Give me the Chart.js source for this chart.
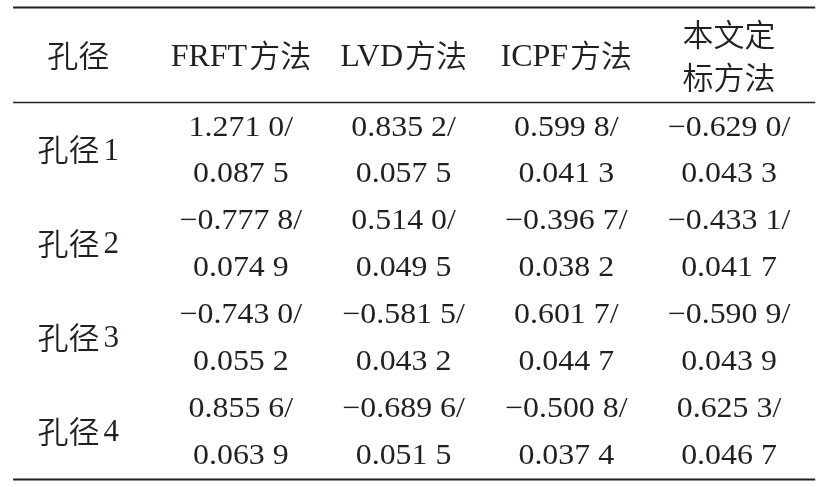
<!DOCTYPE html>
<html>
<head>
<meta charset="utf-8">
<script src="https://cdn.jsdelivr.net/npm/chart.js@4.4.1/dist/chart.umd.min.js"></script>
<style>
  html, body { margin: 0; padding: 0; background: #fff; }
  #wrap { width: 822px; height: 487px; }
</style>
</head>
<body>
<div id="wrap"><canvas id="tableChart"></canvas></div>
<script>
// column headers (last one wraps on two lines)
const columns = ['孔径', 'FRFT方法', 'LVD方法', 'ICPF方法', ['本文定', '标方法']];
const holes = ['孔径1', '孔径2', '孔径3', '孔径4'];

// mean / std per method, one value per hole
const frftMean = [1.2710, -0.7778, -0.7430, 0.8556];
const frftStd = [0.0875, 0.0749, 0.0552, 0.0639];
const lvdMean = [0.8352, 0.5140, -0.5815, -0.6896];
const lvdStd = [0.0575, 0.0495, 0.0432, 0.0515];
const icpfMean = [0.5998, -0.3967, 0.6017, -0.5008];
const icpfStd = [0.0413, 0.0382, 0.0447, 0.0374];
const oursMean = [-0.6290, -0.4331, -0.5909, 0.6253];
const oursStd = [0.0433, 0.0417, 0.0439, 0.0467];

const methods = [
    { mean: frftMean, std: frftStd },
    { mean: lvdMean, std: lvdStd },
    { mean: icpfMean, std: icpfStd },
    { mean: oursMean, std: oursStd },
];

const ink = '#231f20';
const latinFont = '"Liberation Serif", "Times New Roman", serif';
const cjkFont = '"Noto Sans CJK SC", sans-serif';

// text styles: latin size, horizontal stretch of latin, cjk size, gap between runs
const headStyle = { latin: 32, sx: 1.0, cjk: 31, gap: 2 };
const labelStyle = { latin: 31, sx: 1.0, cjk: 31, gap: 4 };
const numStyle = { latin: 29, sx: 1.1, cjk: 29, gap: 0 };

// 1.2710 -> "1.271 0", negatives get a real minus sign
function fmt(v) {
    let s = Math.abs(v).toFixed(4);
    s = s.slice(0, -1) + ' ' + s.slice(-1);
    return (v < 0 ? '\u2212' : '') + s;
}

// split "FRFT方法" into latin / cjk runs
function splitRuns(text) {
    const out = [];
    for (const ch of text) {
        const cjk = /[\u3000-\u9fff\uff00-\uffef]/.test(ch);
        const last = out[out.length - 1];
        if (last && last.cjk === cjk) last.t += ch;
        else out.push({ t: ch, cjk: cjk });
    }
    return out;
}

function drawMixed(ctx, text, x, y, st) {
    const parts = splitRuns(text);
    let total = 0;
    parts.forEach(p => {
        ctx.font = p.cjk ? '350 ' + st.cjk + 'px ' + cjkFont : st.latin + 'px ' + latinFont;
        p.sx = p.cjk ? 1 : st.sx;
        p.w = ctx.measureText(p.t).width * p.sx;
        total += p.w;
    });
    total += st.gap * (parts.length - 1);
    let cx = x - total / 2;
    parts.forEach(p => {
        ctx.font = p.cjk ? '350 ' + st.cjk + 'px ' + cjkFont : st.latin + 'px ' + latinFont;
        ctx.save();
        // cjk glyphs sit a touch low against the serif digits
        ctx.translate(cx, p.cjk ? y - 2 : y);
        ctx.scale(p.sx, 1);
        ctx.fillText(p.t, 0, 0);
        ctx.restore();
        cx += p.w + st.gap;
    });
}

// invisible anchor points, one per cell line (x = column, y = text line)
const datasets = methods.map((m, c) => ({
    label: Array.isArray(columns[c + 1]) ? columns[c + 1].join('') : columns[c + 1],
    data: m.mean.flatMap((v, r) => [{ x: c + 1, y: r * 2 }, { x: c + 1, y: r * 2 + 1 }]),
    pointRadius: 0,
    showLine: false,
}));

const tablePlugin = {
    id: 'tableText',
    afterDraw(chart) {
        const ctx = chart.ctx;
        const xs = chart.scales.x;
        const ys = chart.scales.y;
        ctx.save();

        // rules
        ctx.strokeStyle = ink;
        const rule = (yv, w) => {
            const y = ys.getPixelForValue(yv);
            ctx.lineWidth = w;
            ctx.beginPath();
            ctx.moveTo(xs.getPixelForValue(-0.40), y);
            ctx.lineTo(xs.getPixelForValue(4.53), y);
            ctx.stroke();
        };
        rule(-2.57, 2);
        rule(-0.545, 1.5);
        rule(7.495, 2);

        ctx.fillStyle = ink;
        ctx.textAlign = 'left';
        ctx.textBaseline = 'middle';

        // header row
        columns.forEach((h, c) => {
            const x = xs.getPixelForValue(c);
            if (Array.isArray(h)) {
                drawMixed(ctx, h[0], x, ys.getPixelForValue(-1.95), headStyle);
                drawMixed(ctx, h[1], x, ys.getPixelForValue(-1.03), headStyle);
            } else {
                drawMixed(ctx, h, x, ys.getPixelForValue(-1.5), headStyle);
            }
        });

        // row labels
        holes.forEach((h, r) => {
            drawMixed(ctx, h, xs.getPixelForValue(0), ys.getPixelForValue(r * 2 + 0.5), labelStyle);
        });

        // cells
        methods.forEach((m, c) => {
            const x = xs.getPixelForValue(c + 1);
            m.mean.forEach((v, r) => {
                drawMixed(ctx, fmt(v) + '/', x, ys.getPixelForValue(r * 2), numStyle);
                drawMixed(ctx, fmt(m.std[r]), x, ys.getPixelForValue(r * 2 + 1), numStyle);
            });
        });

        ctx.restore();
    }
};

new Chart(document.getElementById('tableChart'), {
    type: 'scatter',
    data: { datasets: datasets },
    options: {
        responsive: true,
        maintainAspectRatio: false,
        animation: false,
        layout: { padding: 0 },
        plugins: { legend: { display: false }, tooltip: { enabled: false } },
        scales: {
            x: { type: 'linear', display: false, min: -0.4806, max: 4.5716 },
            y: { type: 'linear', display: false, reverse: true, min: -2.729, max: 7.655 },
        },
    },
    plugins: [tablePlugin],
});
</script>
</body>
</html>
